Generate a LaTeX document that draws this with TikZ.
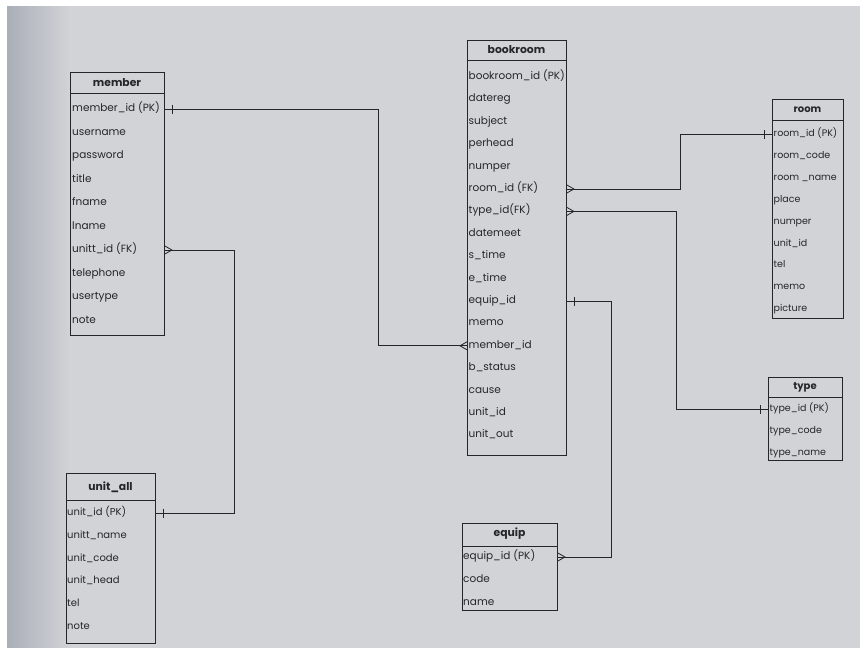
\documentclass[tikz,border=0pt]{standalone}
\usepackage{fontspec}
\setmainfont{Poppins}
\usetikzlibrary{positioning,decorations.markings}

\definecolor{paper}{RGB}{209,211,214}
\definecolor{paperdark}{RGB}{170,174,184}
\definecolor{ink}{RGB}{38,38,42}

\tikzset{
  tbl/.style={draw=ink, line width=0.9pt, inner sep=0pt, anchor=north west},
  tblhead/.style={font=\fontsize{10.8}{11}\selectfont\bfseries, text=ink, inner sep=0pt},
  attr/.style={anchor=west, inner sep=0pt, text height=7pt, text depth=2pt,
    font=\fontsize{10.5}{11}\selectfont, text=ink},
  link/.style={draw=ink, line width=0.9pt},
  % "many" end: crow's foot at the start of the path
  crow/.style={postaction={decorate, decoration={markings,
    mark=at position 0.01pt with {\draw[ink, line width=0.8pt] (0,4pt) -- (7pt,0) -- (0,-4pt);}}}},
  % "one" end: a bar just before the end of the path
  onebar/.style={postaction={decorate, decoration={markings,
    mark=at position -8pt with {\draw[ink, line width=0.9pt] (0,-4.5pt) -- (0,4.5pt);}}}}
}

\begin{document}
\begin{tikzpicture}[x=1pt, y=-1pt]
  \useasboundingbox (0,0) rectangle (860,648);

  % paper
  \fill[white] (0,0) rectangle (860,648);
  \fill[paper] (7,6) rectangle (860,648);
  \shade[left color=paperdark, right color=paper] (7,6) rectangle (70,648);

  % member
  \node[tbl, minimum width=94pt, minimum height=263pt] (member) at (70,72) {};
  \draw[link] (member.north west) ++(0,21) -- ++(94,0);
  \node[tblhead] (member-t) at (117,82.5) {member};
  \foreach \f [count=\i] in {member\_id (PK), username, password, title, fname,
      lname, unitt\_id (FK), telephone, usertype, note}
    \node[attr] (mem-\i) at (72,{109+(\i-1)*23.5}) {\f};

  % bookroom
  \node[tbl, minimum width=99pt, minimum height=415pt] (bookroom) at (467,40) {};
  \draw[link] (bookroom.north west) ++(0,20) -- ++(99,0);
  \node[tblhead] (bookroom-t) at (516.5,50) {bookroom};
  \foreach \f [count=\i] in {bookroom\_id (PK), datereg, subject, perhead, numper,
      room\_id (FK), type\_id(FK), datemeet, s\_time, e\_time, equip\_id, memo,
      member\_id, b\_status, cause, unit\_id, unit\_out}
    \node[attr] (bk-\i) at (468.5,{77+(\i-1)*22.4}) {\f};

  % room
  \node[tbl, minimum width=71pt, minimum height=219pt] (room) at (772,99) {};
  \draw[link] (room.north west) ++(0,21) -- ++(71,0);
  \node[tblhead, font=\fontsize{10}{11}\selectfont\bfseries] (room-t) at (807.5,110) {room};
  \foreach \f [count=\i] in {room\_id (PK), room\_code, room \_name, place, numper,
      unit\_id, tel, memo, picture}
    \node[attr, font=\fontsize{9.5}{10}\selectfont] (rm-\i) at (773.5,{134+(\i-1)*21.9}) {\f};

  % type
  \node[tbl, minimum width=74pt, minimum height=83pt] (type) at (768,377) {};
  \draw[link] (type.north west) ++(0,20) -- ++(74,0);
  \node[tblhead, font=\fontsize{10}{11}\selectfont\bfseries] (type-t) at (805,387.5) {type};
  \foreach \f [count=\i] in {type\_id (PK), type\_code, type\_name}
    \node[attr, font=\fontsize{9.5}{10}\selectfont] (ty-\i) at (769.5,{409+(\i-1)*22}) {\f};

  % unit_all
  \node[tbl, minimum width=89pt, minimum height=170pt] (unitall) at (66,473) {};
  \draw[link] (unitall.north west) ++(0,27) -- ++(89,0);
  \node[tblhead] (unitall-t) at (110.5,487) {unit\_all};
  \foreach \f [count=\i] in {unit\_id (PK), unitt\_name, unit\_code, unit\_head, tel, note}
    \node[attr, font=\fontsize{10}{11}\selectfont] (ua-\i) at (67,{513+(\i-1)*22.8}) {\f};

  % equip
  \node[tbl, minimum width=95pt, minimum height=87pt] (equip) at (462,523) {};
  \draw[link] (equip.north west) ++(0,23) -- ++(95,0);
  \node[tblhead] (equip-t) at (509.5,534) {equip};
  \foreach \f [count=\i] in {equip\_id (PK), code, name}
    \node[attr] (eq-\i) at (463,{557+(\i-1)*23}) {\f};

  % relations (many side first, one side last)
  \draw[link, crow, onebar] (bk-13 -| bookroom.west) -- ++(-89,0) |- (mem-1 -| member.east);
  \draw[link, crow, onebar] (mem-7 -| member.east) -- ++(70,0) |- (ua-1 -| unitall.east);
  \draw[link, crow, onebar] (bk-6 -| bookroom.east) -- ++(114,0) |- (rm-1 -| room.west);
  \draw[link, crow, onebar] (bk-7 -| bookroom.east) -- ++(110,0) |- (ty-1 -| type.west);
  \draw[link, crow, onebar] (eq-1 -| equip.east) -- ++(54,0) |- (bk-11 -| bookroom.east);
\end{tikzpicture}
\end{document}
